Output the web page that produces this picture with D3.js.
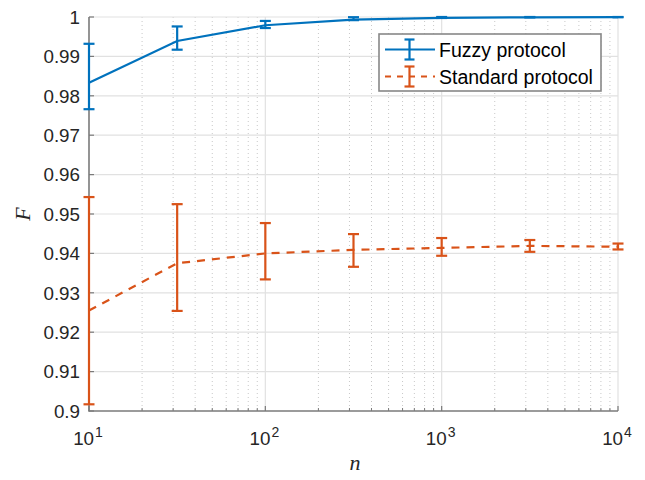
<!DOCTYPE html>
<html><head><meta charset="utf-8">
<script src="https://cdn.jsdelivr.net/npm/d3@7"></script>
<style>body{margin:0;background:#fff}svg{display:block}</style>
</head><body>
<script>
const nValues = [10, 31.62, 100, 316.2, 1000, 3162, 10000];
const fuzzyMean = [0.9833, 0.9939, 0.9979, 0.99935, 0.9998, 0.99993, 0.99997];
const fuzzyLow  = [0.9766, 0.9917, 0.9972, 0.9992, 0.99975, 0.9999, 0.99995];
const fuzzyHigh = [0.9932, 0.9976, 0.9990, 0.99995, 1.0, 1.0, 1.0];
const standardMean = [0.9255, 0.9375, 0.9400, 0.9409, 0.9414, 0.9419, 0.9417];
const standardLow  = [0.9017, 0.9254, 0.9334, 0.9366, 0.9394, 0.9404, 0.9410];
const standardHigh = [0.9543, 0.9525, 0.9477, 0.9449, 0.9439, 0.9434, 0.9425];
const yTicks = [0.9, 0.91, 0.92, 0.93, 0.94, 0.95, 0.96, 0.97, 0.98, 0.99, 1];
const yTickLabels = ["0.9","0.91","0.92","0.93","0.94","0.95","0.96","0.97","0.98","0.99","1"];
const xMajorTicks = [10, 100, 1000, 10000];
const xTickExponents = ["1","2","3","4"];
const seriesNames = ["Fuzzy protocol", "Standard protocol"];

const W = 645, H = 480;
const L = 89, R = 618, T = 17, B = 411;
const svg = d3.select("body").append("svg").attr("width", W).attr("height", H);
const x = d3.scaleLog().domain([10, 10000]).range([L, R]);
const y = d3.scaleLinear().domain([0.9, 1]).range([B, T]);
const tickColor = "#262626";
const font = "'Liberation Sans', Arial, sans-serif";

// minor x ticks
const minor = [];
for (let d = 10; d < 10000; d *= 10) for (let k = 2; k <= 9; k++) minor.push(d * k);

const grid = svg.append("g");
grid.selectAll(".mg").data(minor).join("line")
  .attr("x1", d => x(d)).attr("x2", d => x(d)).attr("y1", T).attr("y2", B)
  .attr("stroke", "#c8c8c8").attr("stroke-width", 1).attr("stroke-dasharray", "1,3");
grid.selectAll(".xg").data(xMajorTicks.slice(1)).join("line")
  .attr("x1", d => x(d)).attr("x2", d => x(d)).attr("y1", T).attr("y2", B)
  .attr("stroke", "#e1e1e1").attr("stroke-width", 1.2);
grid.selectAll(".yg").data(yTicks.slice(1)).join("line")
  .attr("x1", L).attr("x2", R).attr("y1", d => y(d)).attr("y2", d => y(d))
  .attr("stroke", "#e1e1e1").attr("stroke-width", 1.2);

// axes lines and ticks
const ax = svg.append("g");
ax.append("line").attr("x1", L).attr("x2", L).attr("y1", T).attr("y2", B + 0.5)
  .attr("stroke", "#7a7a7a").attr("stroke-width", 1.6);
ax.append("line").attr("x1", L - 0.5).attr("x2", R).attr("y1", B).attr("y2", B)
  .attr("stroke", "#7a7a7a").attr("stroke-width", 1.6);
ax.selectAll(".yt").data(yTicks).join("line")
  .attr("x1", L).attr("x2", L + 5).attr("y1", d => y(d)).attr("y2", d => y(d))
  .attr("stroke", "#7a7a7a").attr("stroke-width", 1.2);
ax.selectAll(".xt").data(xMajorTicks).join("line")
  .attr("x1", d => x(d)).attr("x2", d => x(d)).attr("y1", B).attr("y2", B - 5)
  .attr("stroke", "#7a7a7a").attr("stroke-width", 1.2);
ax.selectAll(".xmt").data(minor).join("line")
  .attr("x1", d => x(d)).attr("x2", d => x(d)).attr("y1", B).attr("y2", B - 3)
  .attr("stroke", "#7a7a7a").attr("stroke-width", 1);

ax.selectAll(".yl").data(yTicks).join("text")
  .attr("x", L - 9).attr("y", d => y(d)).attr("dy", "0.36em")
  .attr("text-anchor", "end").attr("font-family", font).attr("font-size", 18.8)
  .attr("fill", tickColor).text((d, i) => yTickLabels[i]);

const xl = ax.selectAll(".xl").data(xMajorTicks).join("text")
  .attr("x", d => x(d) - 1).attr("y", 445)
  .attr("text-anchor", "middle").attr("font-family", font).attr("fill", tickColor);
xl.append("tspan").attr("font-size", 18.8).text("10");
xl.append("tspan").attr("font-size", 14).attr("dy", -8.5).attr("dx", 1).text((d, i) => xTickExponents[i]);

// axis labels
svg.append("text").attr("x", 355).attr("y", 470).attr("text-anchor", "middle")
  .attr("font-family", "'Liberation Serif', 'Times New Roman', serif").attr("font-style", "italic")
  .attr("font-size", 22).attr("fill", tickColor).text("n");
svg.append("text").attr("transform", "translate(30,214) rotate(-90)").attr("text-anchor", "middle")
  .attr("font-family", "'Liberation Serif', 'Times New Roman', serif").attr("font-style", "italic")
  .attr("font-size", 22).attr("fill", tickColor).text("F");

// series
const series = [
  {mean: fuzzyMean, lo: fuzzyLow, hi: fuzzyHigh, color: "#0072BD", dash: null},
  {mean: standardMean, lo: standardLow, hi: standardHigh, color: "#D95319", dash: "8,7"}
];
const clip = svg.append("defs").append("clipPath").attr("id", "c")
  .append("rect").attr("x", L - 8).attr("y", T - 8).attr("width", R - L + 16).attr("height", B - T + 8);
const plot = svg.append("g").attr("clip-path", "url(#c)");
const line = d3.line().x(d => x(d[0])).y(d => y(d[1]));
const cap = 5.5;
series.forEach(s => {
  const g = plot.append("g");
  const pts = nValues.map((n, i) => [n, s.mean[i]]);
  g.append("path").attr("d", line(pts)).attr("fill", "none").attr("stroke", s.color)
    .attr("stroke-width", 2.2).attr("stroke-dasharray", s.dash);
  nValues.forEach((n, i) => {
    const cx = x(n), y1 = y(s.lo[i]), y2 = y(s.hi[i]);
    g.append("line").attr("x1", cx).attr("x2", cx).attr("y1", y1).attr("y2", y2)
      .attr("stroke", s.color).attr("stroke-width", 2.2);
    [y1, y2].forEach(yy => g.append("line").attr("x1", cx - cap).attr("x2", cx + cap)
      .attr("y1", yy).attr("y2", yy).attr("stroke", s.color).attr("stroke-width", 2.2));
  });
});

// legend
const lg = svg.append("g");
lg.append("rect").attr("x", 379).attr("y", 34).attr("width", 222).attr("height", 57)
  .attr("fill", "#fff").attr("stroke", "#888").attr("stroke-width", 1.6);
series.forEach((s, i) => {
  const cy = 49.5 + i * 27;
  lg.append("line").attr("x1", 385).attr("x2", 435).attr("y1", cy).attr("y2", cy)
    .attr("stroke", s.color).attr("stroke-width", 2.2).attr("stroke-dasharray", s.dash ? "6,6" : null);
  lg.append("line").attr("x1", 409.5).attr("x2", 409.5).attr("y1", cy - 10).attr("y2", cy + 10)
    .attr("stroke", s.color).attr("stroke-width", 2.2);
  [cy - 10, cy + 10].forEach(yy => lg.append("line").attr("x1", 404.5).attr("x2", 414.5)
    .attr("y1", yy).attr("y2", yy).attr("stroke", s.color).attr("stroke-width", 2.2));
  lg.append("text").attr("x", 439).attr("y", cy + 7.2).attr("font-family", font)
    .attr("font-size", 19.5).attr("fill", "#000").text(seriesNames[i]);
});
</script>
</body></html>
